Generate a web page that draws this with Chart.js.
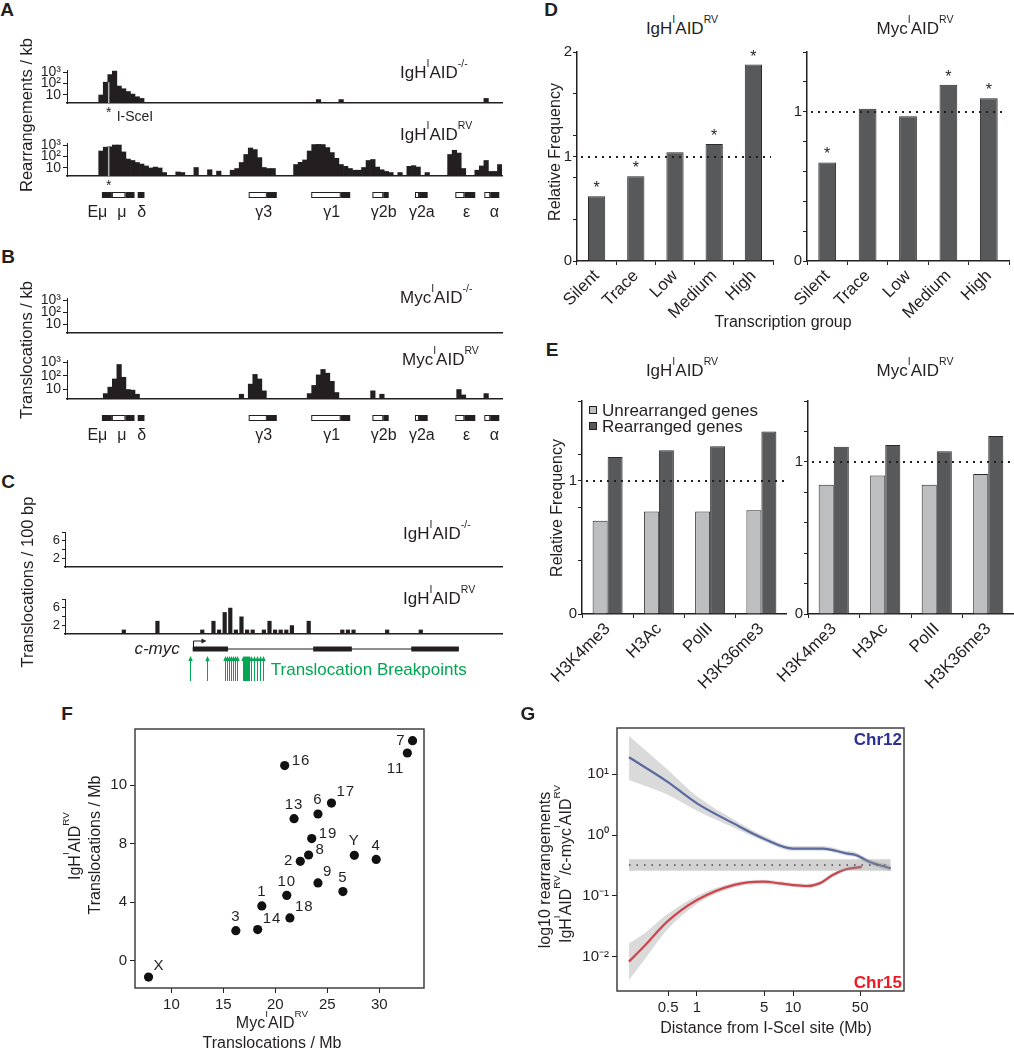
<!DOCTYPE html>
<html>
<head>
<meta charset="utf-8">
<script src="https://cdn.jsdelivr.net/npm/chart.js@4.4.1/dist/chart.umd.min.js"></script>
<style>
  html, body { margin: 0; padding: 0; background: #fff; }
  #fig { position: relative; width: 1014px; height: 1050px; overflow: hidden;
         font-family: 'Liberation Sans', Arial, Helvetica, sans-serif; color: #231f20; }
  #fig canvas { position: absolute; }
  .t { position: absolute; white-space: nowrap; line-height: 1; }
  .t sup { font-size: 0.62em; position: relative; top: -0.1em; vertical-align: top; line-height: 0; }
  .sq { position: absolute; width: 8px; height: 8px; border: 1px solid #231f20; box-sizing: border-box; }
</style>
</head>
<body>
<div id="fig"></div>
<script>
// ---- data ----
// A/B: IgH locus, 96 bins; C: c-myc locus, 78 bins of 100 bp
const A_KO = [0,0,0,0,0,0,0,10,130,600,1200,60,35,20,12,7,
              5,0,0,0,0,0,0,0,0,0,0,0,0,0,0,0,
              0,0,0,0,0,0,0,0,0,0,0,0,0,0,0,0,
              0,0,0,0,0,0,0,4,0,0,0,0,4,0,0,0,
              0,0,0,0,0,0,0,0,0,0,0,0,0,0,0,0,
              0,0,0,0,0,0,0,0,0,0,0,0,5,0,0,0];
const A_RV = [0,0,0,0,0,0,0,300,650,700,1000,1000,250,60,45,30,
              22,15,10,12,10,4,0,0,4.5,4,0,0,11,0,0,7,
              0,5.3,0,0,6.4,9,30,150,550,400,80,11,9,9,0,0,
              0,0,20,31,50,300,1100,1130,1100,600,220,70,20,14,9,6.4,
              6.4,11,45,55,12,7,5,4,0,4,0,14,16,12,0,4,
              0,0,0,0,150,350,200,9,0,0,6.4,15,45,5,5,20];
const B_KO = new Array(96).fill(0);
const B_RV = [0,0,0,0,0,0,0,0,5,15,60,700,80,10,9,4.5,
              0,0,0,0,0,0,0,0,0,0,0,0,0,0,0,0,
              0,0,0,0,0,0,4.5,0,25,130,60,8,0,0,0,0,
              0,0,0,0,0,5,20,120,300,160,40,6,0,0,0,0,
              0,0,0,8,0,4.5,0,0,0,0,0,0,0,0,0,0,
              0,0,0,0,0,0,10,4,0,0,0,0,5,0,0,0];
const C_KO = new Array(78).fill(0);
const C_RV = [0,0,0,0,0,0,0,0,0,0,1,0,0,0,0,0,
              3,0,0,0,0,0,0,0,1,0,3,1,5,6,1,4,
              1,1,0,1,3,1,1,1,2,0,0,3,0,0,0,0,
              0,1,1,1,0,0,0,0,0,1,0,0,0,0,0,1,
              0,0,0,0,0,0,0,0,0,0,0,0,0,0];
const IGH_BINS = A_RV.map((_, i) => i);
const MYC_BINS = C_RV.map((_, i) => i);
const TRACK_TICKS = [10, 100, 1000];
const TRACK_TICK_LABELS = ['10', '10²', '10³'];
const MYC_TICKS = [2, 4, 6, 8];
const MYC_TICK_LABELS = ['2', '', '6', ''];
const ISCEI_AT = 8.7;
// IgH constant region genes (bin units)
const IGH_GENE_NAMES = ['Eμ', 'μ', 'δ', 'γ3', 'γ1', 'γ2b', 'γ2a', 'ε', 'α'];
const IGH_GENE_AT = [6.2, 11.6, 16.0, 42.9, 57.9, 69.4, 77.8, 87.7, 93.8];
const IGH_SWITCH = [[9.4, 12.4], [39.6, 43.6], [53.4, 59.9], [66.9, 69.3], [76.3, 77.2], [85.2, 87.2], [91.6, 92.9]];
const IGH_EXON = [[7.2, 9.4], [12.4, 14.4], [15.1, 16.6], [43.6, 45.8], [59.9, 62.0], [69.3, 70.5], [77.2, 79.1], [87.2, 89.6], [92.9, 94.9]];
// c-myc gene (bin units)
const MYC_SPAN = [22.3, 69.8];
const MYC_EXONS = [[22.3, 28.6], [43.8, 50.7], [61.3, 69.8]];
const BREAKPOINTS = [21.8, 24.8, 28.1, 28.4, 28.8, 29.1, 29.5, 29.9, 30.2,
                     31.3, 31.4, 31.6, 31.8, 32.0, 32.2, 32.3, 32.7, 33.2, 33.8, 34.3, 34.8];

// D
const GROUPS = ['Silent', 'Trace', 'Low', 'Medium', 'High'];
const D_IGH = [0.62, 0.81, 1.04, 1.12, 1.88];
const D_IGH_STAR = [true, true, false, true, true];
const D_MYC = [0.66, 1.02, 0.97, 1.18, 1.09];
const D_MYC_STAR = [true, false, false, true, true];
const D_IGH_TICKS = [0, 0.4, 0.8, 1, 1.2, 1.6, 2];
const D_MYC_TICKS = [0, 0.2, 0.4, 0.6, 0.8, 1, 1.2, 1.4];
// E
const MARKS = ['H3K4me3', 'H3Ac', 'PolII', 'H3K36me3'];
const E_SERIES = ['Unrearranged genes', 'Rearranged genes'];
const E_IGH_UNRE = [0.70, 0.77, 0.77, 0.78];
const E_IGH_RE = [1.18, 1.23, 1.26, 1.37];
const E_MYC_UNRE = [0.85, 0.91, 0.85, 0.92];
const E_MYC_RE = [1.10, 1.11, 1.07, 1.17];
const E_IGH_TICKS = [0, 0.4, 0.8, 1, 1.2, 1.6];
const E_MYC_TICKS = [0, 0.2, 0.4, 0.6, 0.8, 1, 1.2, 1.4];
const FREQ_LABELLED = [0, 1, 2];
// F
const F_CHR = ['X','3','14','1','18','10','2','8','9','5','19','13','6','17','Y','4','16','11','7'];
const F_MYC = [7.8, 16.2, 18.3, 18.7, 21.4, 21.1, 22.4, 23.2, 24.1, 26.5, 23.5, 21.8, 24.1, 25.4, 27.6, 29.7, 20.9, 32.7, 33.2];
const F_IGH = [-1.12, 2.05, 2.12, 3.74, 2.92, 4.46, 6.79, 7.22, 5.31, 4.72, 8.34, 9.70, 10.02, 10.77, 7.20, 6.92, 13.33, 14.19, 15.03];
const F_LABEL_DIR = ['ne','n','ne','n','ne','n','w','e','ne','n','e','n','n','ne','n','n','e','sw','w'];
const F_XTICKS = [10, 15, 20, 25, 30];
const F_YTICKS = [0, 4, 8, 12];
const F_YTICK_LABELS = ['0', '4', '8', '10'];
// G
const G_X12 = [0.196, 0.49, 1, 2.4, 4.9, 10, 20.4, 35.7, 45, 62, 104];
const G_12 = [18.8, 7.5, 3.3, 1.55, 0.88, 0.60, 0.60, 0.50, 0.47, 0.365, 0.284];
const G_12_HI = [42, 12, 4.3, 1.8, 0.98, 0.66, 0.66, 0.55, 0.52, 0.40, 0.32];
const G_12_LO = [8.0, 4.6, 2.5, 1.33, 0.80, 0.55, 0.55, 0.46, 0.43, 0.33, 0.25];
const G_X15 = [0.196, 0.28, 0.49, 1, 2.4, 4.9, 7.3, 10, 13.7, 18.9, 25.9, 35.6, 52];
const G_15 = [0.0084, 0.0148, 0.038, 0.086, 0.151, 0.172, 0.161, 0.151, 0.146, 0.161, 0.221, 0.274, 0.30];
const G_15_HI = [0.0168, 0.024, 0.05, 0.10, 0.165, 0.185, 0.174, 0.163, 0.158, 0.174, 0.238, 0.29, 0.325];
const G_15_LO = [0.0042, 0.0088, 0.028, 0.074, 0.138, 0.158, 0.149, 0.140, 0.135, 0.149, 0.205, 0.258, 0.278];
const G_REF_X = [0.196, 104];
const G_REF = [0.322, 0.322];
const G_REF_HI = [0.40, 0.40];
const G_REF_LO = [0.26, 0.26];
const G_XTICKS = [0.5, 1, 5, 10, 50];
const G_XTICK_LABELS = ['0.5', '1', '5', '10', '50'];
const G_YTICKS = [0.01, 0.1, 1, 10];
const G_YTICK_LABELS = ['10⁻²', '10⁻¹', '10⁰', '10¹'];

// ---- styles ----
const FONT = "'Liberation Sans', Arial, Helvetica, sans-serif";
const INK = '#231f20';
const DARK = '#58595b';
const LIGHT = '#bcbec0';
const EDGE = '#2a2a2a';
const GREEN = '#00a651';
const BLUE = '#3953a4';
const RED = '#ed1c24';

Chart.defaults.font.family = FONT;
Chart.defaults.color = INK;
Chart.defaults.animation = false;
Chart.defaults.responsive = false;
Chart.defaults.devicePixelRatio = 1;
Chart.defaults.plugins.legend.display = false;
Chart.defaults.plugins.tooltip.enabled = false;

const fig = document.getElementById('fig');

// box = canvas [x, y, w, h]; plot = plot area [left, top, right, bottom] in page px.
// The y axis gets all the room left of the plot, the x axis all the room below it.
function chartAt(box, plot, config) {
  const [cx, cy, cw, ch] = box;
  const c = document.createElement('canvas');
  c.width = cw; c.height = ch;
  c.style.left = cx + 'px'; c.style.top = cy + 'px';
  fig.appendChild(c);
  const yRoom = plot[0] - cx, xRoom = cy + ch - plot[3];
  Object.values(config.options.scales).forEach(sc => {
    sc.afterFit = s => {
      if (s.isHorizontal()) s.height = xRoom; else s.width = yRoom;
      s.paddingLeft = s.paddingRight = s.paddingTop = s.paddingBottom = 0;
    };
  });
  config.options.layout = { padding: { left: 0, top: plot[1] - cy, right: cx + cw - plot[2], bottom: 0 } };
  return new Chart(c, config);
}

function txt(html, x, y, o = {}) {
  const d = document.createElement('div');
  d.className = 't';
  d.innerHTML = html;
  d.style.left = x + 'px'; d.style.top = y + 'px';
  d.style.fontSize = (o.size || 16) + 'px';
  if (o.bold) d.style.fontWeight = 'bold';
  if (o.color) d.style.color = o.color;
  let tf = o.align === 'left' ? 'translate(0,-50%)' : o.align === 'right' ? 'translate(-100%,-50%)' : 'translate(-50%,-50%)';
  if (o.rot) tf += ' rotate(-90deg)';
  d.style.transform = tf;
  fig.appendChild(d);
}

function fixedTicks(list) { return s => { s.ticks = list.map(v => ({ value: v })); }; }

// ---- plugins ----
function isceiMark(values, withLabel) {
  return { id: 'iscei', afterDatasetsDraw(chart) {
    const { ctx, chartArea: a, scales: { x, y } } = chart;
    const px = x.getPixelForValue(ISCEI_AT);
    const top = y.getPixelForValue(Math.min(values[8], values[9]));
    ctx.save();
    ctx.strokeStyle = '#b5b5b5'; ctx.lineWidth = 1.5;
    ctx.beginPath(); ctx.moveTo(px, a.bottom); ctx.lineTo(px, top); ctx.stroke();
    ctx.fillStyle = INK; ctx.font = '14px ' + FONT; ctx.textAlign = 'center'; ctx.textBaseline = 'alphabetic';
    ctx.fillText('*', px, a.bottom + 14);
    if (withLabel) { ctx.textAlign = 'left'; ctx.textBaseline = 'middle'; ctx.fillText('I-SceI', px + 8, a.bottom + 14); }
    ctx.restore();
  } };
}

const ighGenes = { id: 'ighGenes', afterDraw(chart) {
  const { ctx, chartArea: a, scales: { x } } = chart;
  const top = a.bottom + 16, h = 6;
  const px = v => x.getPixelForValue(v);
  ctx.save();
  ctx.strokeStyle = INK; ctx.lineWidth = 1;
  IGH_SWITCH.forEach(([s, e]) => {
    ctx.fillStyle = '#fff'; ctx.fillRect(px(s), top, px(e) - px(s), h);
    ctx.strokeRect(px(s) + 0.5, top + 0.5, px(e) - px(s) - 1, h - 1);
  });
  ctx.fillStyle = INK;
  IGH_EXON.forEach(([s, e]) => ctx.fillRect(px(s), top, px(e) - px(s), h));
  ctx.font = '16px ' + FONT; ctx.textAlign = 'center'; ctx.textBaseline = 'middle';
  IGH_GENE_NAMES.forEach((n, i) => ctx.fillText(n, px(IGH_GENE_AT[i]), a.bottom + 37));
  ctx.restore();
} };

const mycGene = { id: 'mycGene', afterDraw(chart) {
  const { ctx, chartArea: a, scales: { x } } = chart;
  const gy = a.bottom + 15;
  const px = v => x.getPixelForValue(v);
  ctx.save();
  ctx.strokeStyle = INK; ctx.fillStyle = INK; ctx.lineWidth = 1.2;
  ctx.beginPath(); ctx.moveTo(px(MYC_SPAN[0]), gy); ctx.lineTo(px(MYC_SPAN[1]), gy); ctx.stroke();
  MYC_EXONS.forEach(([s, e]) => ctx.fillRect(px(s), gy - 2.5, px(e) - px(s), 5));
  const tx = Math.round(px(MYC_SPAN[0])) + 0.5;
  ctx.lineWidth = 1;
  ctx.beginPath(); ctx.moveTo(tx, gy - 2); ctx.lineTo(tx, gy - 8); ctx.lineTo(tx + 9, gy - 8); ctx.stroke();
  ctx.beginPath(); ctx.moveTo(tx + 13, gy - 8); ctx.lineTo(tx + 8, gy - 10.5); ctx.lineTo(tx + 8, gy - 5.5); ctx.closePath(); ctx.fill();
  ctx.font = 'italic 17px ' + FONT; ctx.textAlign = 'right'; ctx.textBaseline = 'middle';
  ctx.fillText('c-myc', px(MYC_SPAN[0]) - 13, gy);
  ctx.strokeStyle = GREEN; ctx.fillStyle = GREEN;
  BREAKPOINTS.forEach(b => {
    const bx = Math.round(px(b)) + 0.5;
    ctx.beginPath(); ctx.moveTo(bx, gy + 32); ctx.lineTo(bx, gy + 10); ctx.stroke();
    ctx.beginPath(); ctx.moveTo(bx, gy + 7); ctx.lineTo(bx - 2.2, gy + 12); ctx.lineTo(bx + 2.2, gy + 12); ctx.closePath(); ctx.fill();
  });
  ctx.font = '17px ' + FONT; ctx.textAlign = 'left';
  ctx.fillText('Translocation Breakpoints', px(Math.max(...BREAKPOINTS)) + 8, gy + 21);
  ctx.restore();
} };

const refLine = { id: 'refLine', afterDatasetsDraw(chart) {
  const { ctx, chartArea: a, scales: { y } } = chart;
  const py = Math.round(y.getPixelForValue(1));
  ctx.save(); ctx.strokeStyle = INK; ctx.lineWidth = 2; ctx.setLineDash([2, 5]);
  ctx.beginPath(); ctx.moveTo(a.left + 4, py); ctx.lineTo(a.right - 2, py); ctx.stroke();
  ctx.restore();
} };

function starMarks(flags) {
  return { id: 'stars', afterDatasetsDraw(chart) {
    const ctx = chart.ctx;
    ctx.save(); ctx.fillStyle = INK; ctx.font = '16px ' + FONT; ctx.textAlign = 'center'; ctx.textBaseline = 'alphabetic';
    chart.getDatasetMeta(0).data.forEach((bar, i) => { if (flags[i]) ctx.fillText('*', bar.x, bar.y - 3); });
    ctx.restore();
  } };
}

const frame = { id: 'frame', afterDraw(chart) {
  const { ctx, chartArea: a } = chart;
  ctx.save(); ctx.strokeStyle = '#333'; ctx.lineWidth = 1.4;
  ctx.strokeRect(a.left, a.top, a.right - a.left, a.bottom - a.top);
  ctx.restore();
} };

const LABEL_OFFSETS = { n: [0, -14, 'center'], ne: [5, -11, 'left'], e: [7, -5, 'left'], w: [-7, 0, 'right'], sw: [-3, 16, 'right'] };
const chrLabels = { id: 'chrLabels', afterDatasetsDraw(chart) {
  const ctx = chart.ctx;
  ctx.save(); ctx.fillStyle = INK; ctx.font = '15px ' + FONT; ctx.textBaseline = 'middle';
  ctx.letterSpacing = '1px';
  chart.getDatasetMeta(0).data.forEach((pt, i) => {
    const [dx, dy, al] = LABEL_OFFSETS[F_LABEL_DIR[i]];
    ctx.textAlign = al;
    ctx.fillText(F_CHR[i], pt.x + dx, pt.y + dy);
  });
  ctx.restore();
} };

// ---- chart builders ----
function logTrack(box, plot, values, extras) {
  return chartAt(box, plot, {
    type: 'bar',
    data: { labels: IGH_BINS, datasets: [{ data: values.map(v => v > 0 ? v : null), backgroundColor: INK,
      barPercentage: 1, categoryPercentage: 1, borderWidth: 0 }] },
    options: { scales: {
      x: { grid: { display: false }, ticks: { display: false }, border: { color: INK, width: 1.5 } },
      y: { type: 'logarithmic', min: 2, max: 1500, afterBuildTicks: fixedTicks(TRACK_TICKS),
           ticks: { autoSkip: false, padding: 2, font: { size: 14 }, callback: (v, i) => TRACK_TICK_LABELS[i] },
           grid: { drawOnChartArea: false, tickLength: 4, color: INK }, border: { color: INK } }
    } },
    plugins: extras
  });
}

function linTrack(box, plot, values, extras) {
  return chartAt(box, plot, {
    type: 'bar',
    data: { labels: MYC_BINS, datasets: [{ data: values.map(v => v > 0 ? v : null), backgroundColor: INK,
      barPercentage: 0.75, categoryPercentage: 1, borderWidth: 0 }] },
    options: { scales: {
      x: { grid: { display: false }, ticks: { display: false }, border: { color: INK, width: 1.5 } },
      y: { min: 0, max: 8, afterBuildTicks: fixedTicks(MYC_TICKS),
           ticks: { autoSkip: false, padding: 2, font: { size: 13 }, callback: (v, i) => MYC_TICK_LABELS[i] },
           grid: { drawOnChartArea: false, tickLength: 3, color: INK }, border: { color: INK } }
    } },
    plugins: extras
  });
}

function catAxis() {
  return { grid: { drawOnChartArea: false, tickLength: 4, color: INK }, border: { color: INK, width: 1.5 },
    ticks: { minRotation: 45, maxRotation: 45, autoSkip: false, padding: 1, font: { size: 17 } } };
}
function freqAxis(max, ticks) {
  return { min: 0, max, afterBuildTicks: fixedTicks(ticks),
    ticks: { autoSkip: false, padding: 1, font: { size: 15 }, callback: v => FREQ_LABELLED.includes(v) ? String(v) : '' },
    grid: { drawOnChartArea: false, tickLength: 4, color: INK }, border: { color: INK, width: 1.5 } };
}

// ---- A ----
logTrack([20, 58, 490, 72], [67, 70, 502, 103], A_KO, [isceiMark(A_KO, true)]);
logTrack([20, 130, 490, 100], [67, 143, 502, 176], A_RV, [isceiMark(A_RV, false), ighGenes]);
// ---- B ----
logTrack([20, 288, 490, 55], [67, 298, 502, 333], B_KO, []);
logTrack([20, 350, 490, 100], [67, 360, 502, 399], B_RV, [ighGenes]);
// ---- C ----
linTrack([20, 522, 490, 55], [65, 532, 502, 567], C_KO, []);
linTrack([20, 589, 490, 100], [65, 599, 502, 634], C_RV, [mycGene]);

// ---- D ----
chartAt([525, 40, 262, 292], [577, 52, 773, 261], {
  type: 'bar',
  data: { labels: GROUPS, datasets: [{ data: D_IGH, backgroundColor: DARK, borderColor: EDGE, borderWidth: 1,
    barPercentage: 0.44, categoryPercentage: 1 }] },
  options: { scales: { x: catAxis(), y: freqAxis(2, D_IGH_TICKS) } },
  plugins: [refLine, starMarks(D_IGH_STAR)]
});
chartAt([765, 40, 249, 292], [807, 52, 1009, 261], {
  type: 'bar',
  data: { labels: GROUPS, datasets: [{ data: D_MYC, backgroundColor: DARK, borderColor: EDGE, borderWidth: 1,
    barPercentage: 0.44, categoryPercentage: 1 }] },
  options: { scales: { x: catAxis(), y: freqAxis(1.4, D_MYC_TICKS) } },
  plugins: [refLine, starMarks(D_MYC_STAR)]
});

// ---- E ----
function eChart(box, plot, unre, re, max, ticks) {
  return chartAt(box, plot, {
    type: 'bar',
    data: { labels: MARKS, datasets: [
      { label: E_SERIES[0], data: unre, backgroundColor: LIGHT, borderColor: EDGE, borderWidth: 1, barPercentage: 1, categoryPercentage: 0.585 },
      { label: E_SERIES[1], data: re, backgroundColor: DARK, borderColor: EDGE, borderWidth: 1, barPercentage: 1, categoryPercentage: 0.585 }
    ] },
    options: { scales: { x: catAxis(), y: freqAxis(max, ticks) } },
    plugins: [refLine]
  });
}
eChart([525, 385, 262, 320], [582, 401, 787, 614], E_IGH_UNRE, E_IGH_RE, 1.6, E_IGH_TICKS);
eChart([755, 385, 259, 320], [808, 401, 1014, 614], E_MYC_UNRE, E_MYC_RE, 1.4, E_MYC_TICKS);

// ---- F ----
chartAt([80, 715, 360, 320], [135, 729, 424, 988], {
  type: 'scatter',
  data: { datasets: [{ data: F_MYC.map((x, i) => ({ x, y: F_IGH[i] })), pointRadius: 4.6,
    pointBackgroundColor: '#111', pointBorderWidth: 0 }] },
  options: { scales: {
    x: { type: 'linear', min: 6.5, max: 34.3, afterBuildTicks: fixedTicks(F_XTICKS),
         ticks: { autoSkip: false, maxRotation: 0, padding: 3, font: { size: 15 } },
         grid: { drawOnChartArea: false, tickLength: 5, color: INK }, border: { display: false } },
    y: { type: 'linear', min: -1.87, max: 15.83, afterBuildTicks: fixedTicks(F_YTICKS),
         ticks: { autoSkip: false, padding: 3, font: { size: 15 }, callback: (v, i) => F_YTICK_LABELS[i] },
         grid: { drawOnChartArea: false, tickLength: 5, color: INK }, border: { display: false } }
  } },
  plugins: [frame, chrLabels]
});

// ---- G ----
const xy = (xs, ys) => xs.map((x, i) => ({ x, y: ys[i] }));
const band = { pointRadius: 0, borderWidth: 0, borderColor: 'transparent', backgroundColor: 'rgba(150,150,150,0.35)', cubicInterpolationMode: 'monotone' };
chartAt([560, 715, 360, 320], [617, 728, 904, 991], {
  type: 'line',
  data: { datasets: [
    { ...band, data: xy(G_X12, G_12_HI), fill: false },
    { ...band, data: xy(G_X12, G_12_LO), fill: '-1' },
    { ...band, data: xy(G_X15, G_15_HI), fill: false },
    { ...band, data: xy(G_X15, G_15_LO), fill: '-1' },
    { ...band, data: xy(G_REF_X, G_REF_HI), fill: false },
    { ...band, data: xy(G_REF_X, G_REF_LO), fill: '-1', backgroundColor: 'rgba(140,140,140,0.4)' },
    { data: xy(G_REF_X, G_REF), pointRadius: 0, borderColor: INK, borderWidth: 1.5, borderDash: [1.5, 6], fill: false },
    { data: xy(G_X12, G_12), pointRadius: 0, borderColor: BLUE, borderWidth: 2.2, cubicInterpolationMode: 'monotone', fill: false },
    { data: xy(G_X15, G_15), pointRadius: 0, borderColor: RED, borderWidth: 2.2, cubicInterpolationMode: 'monotone', fill: false }
  ] },
  options: { scales: {
    x: { type: 'logarithmic', min: 0.147, max: 143, afterBuildTicks: fixedTicks(G_XTICKS),
         ticks: { autoSkip: false, maxRotation: 0, padding: 3, font: { size: 15 }, callback: (v, i) => G_XTICK_LABELS[i] },
         grid: { drawOnChartArea: false, tickLength: 5, color: INK }, border: { display: false } },
    y: { type: 'logarithmic', min: 0.00277, max: 56.8, afterBuildTicks: fixedTicks(G_YTICKS),
         ticks: { autoSkip: false, padding: 3, font: { size: 15 }, callback: (v, i) => G_YTICK_LABELS[i] },
         grid: { drawOnChartArea: false, tickLength: 5, color: INK }, border: { display: false } }
  } },
  plugins: [frame]
});

// ---- text ----
const IGH_KO_T = 'IgH<sup>I</sup>AID<sup>-/-</sup>';
const IGH_RV_T = 'IgH<sup>I</sup>AID<sup>RV</sup>';
const MYC_KO_T = 'Myc<sup>I</sup>AID<sup>-/-</sup>';
const MYC_RV_T = 'Myc<sup>I</sup>AID<sup>RV</sup>';

[['A', 7, 9], ['B', 8, 256], ['C', 8, 481], ['D', 551, 9], ['E', 552, 349], ['F', 67, 713], ['G', 528, 713]]
  .forEach(([l, x, y]) => txt(l, x, y, { size: 19, bold: true }));

txt('Rearrangements / kb', 26, 115, { rot: true, size: 16.5 });
txt('Translocations / kb', 26, 350, { rot: true, size: 16.5 });
txt('Translocations / 100 bp', 27, 582, { rot: true, size: 16.5 });
txt(IGH_KO_T, 400, 72, { align: 'left', size: 17 });
txt(IGH_RV_T, 400, 134, { align: 'left', size: 17 });
txt(MYC_KO_T, 400, 297, { align: 'left', size: 17 });
txt(MYC_RV_T, 402, 359, { align: 'left', size: 17 });
txt(IGH_KO_T, 403, 533, { align: 'left', size: 17 });
txt(IGH_RV_T, 403, 598, { align: 'left', size: 17 });

txt(IGH_RV_T, 682, 28, { size: 17 });
txt(MYC_RV_T, 915, 28, { size: 17 });
txt('Relative Frequency', 555, 152, { rot: true });
txt('Transcription group', 783, 322);

txt(IGH_RV_T, 682, 370, { size: 17 });
txt(MYC_RV_T, 915, 370, { size: 17 });
txt('Relative Frequency', 557, 508, { rot: true });
[LIGHT, DARK].forEach((c, i) => {
  const s = document.createElement('div');
  s.className = 'sq'; s.style.left = '589px'; s.style.top = (406 + 16 * i) + 'px'; s.style.background = c;
  fig.appendChild(s);
  txt(E_SERIES[i], 602, 410 + 16 * i, { align: 'left', size: 17 });
});

txt(IGH_RV_T, 75, 846, { rot: true });
txt('Translocations / Mb', 95, 845, { rot: true });
txt(MYC_RV_T, 272, 1023);
txt('Translocations / Mb', 272, 1043);

txt('log10 rearrangements', 545, 870, { rot: true });
txt('IgH<sup>I</sup>AID<sup>RV</sup>/c-myc<sup>I</sup>AID<sup>RV</sup>', 566, 864, { rot: true });
txt('Distance from I-SceI site (Mb)', 766, 1028);
txt('Chr12', 902, 739, { align: 'right', bold: true, size: 17, color: '#2e3192' });
txt('Chr15', 902, 982, { align: 'right', bold: true, size: 17, color: RED });
</script>
</body>
</html>
